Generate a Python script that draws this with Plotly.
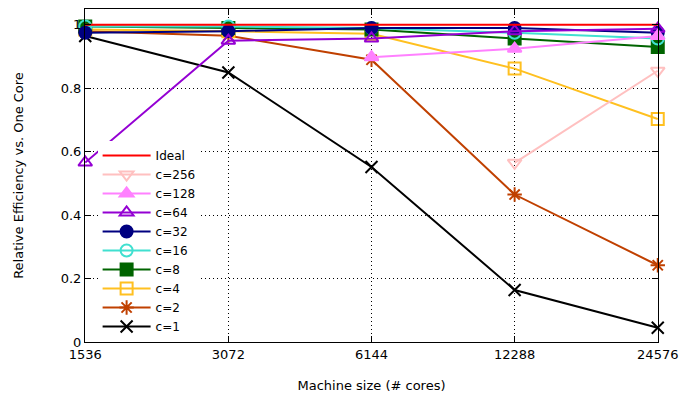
import math
import plotly.graph_objects as go

cores = [1536, 3072, 6144, 12288, 24576]
ideal = [1, 1, 1, 1, 1]
c256_x = [12288, 24576]
c256 = [0.565, 0.855]
c128_x = [6144, 12288, 24576]
c128 = [0.898, 0.925, 0.965]
c64 = [0.566, 0.950, 0.957, 0.980, 0.988]
c32 = [0.975, 0.980, 0.990, 0.990, 0.975]
c16 = [0.995, 0.995, 0.990, 0.975, 0.957]
c8 = [0.995, 0.990, 0.985, 0.957, 0.930]
c4 = [0.985, 0.980, 0.972, 0.862, 0.703]
c2 = [0.980, 0.966, 0.890, 0.465, 0.242]
c1 = [0.965, 0.850, 0.552, 0.164, 0.045]

series = [
    ("c=256", c256_x, c256, "#ffc0c0", "triangle-down-open"),
    ("c=128", c128_x, c128, "#ff80ff", "triangle-up"),
    ("c=64", cores, c64, "#9400d3", "triangle-up-open"),
    ("c=32", cores, c32, "#000080", "circle"),
    ("c=16", cores, c16, "#40e0d0", "circle-open"),
    ("c=8", cores, c8, "#006400", "square"),
    ("c=4", cores, c4, "#ffc020", "square-open"),
    ("c=2", cores, c2, "#c04000", "asterisk-open"),
    ("c=1", cores, c1, "#000000", "x-thin-open"),
]

fig = go.Figure()
for rank, (name, xs, ys, col, sym) in reversed(list(enumerate(series, start=2))):
    fig.add_trace(go.Scatter(
        x=xs, y=ys, name=name, mode="lines+markers", legendrank=rank,
        line=dict(color=col, width=2),
        marker=dict(symbol=sym, size=12, color=col,
                    line=dict(color=col, width=2)),
        cliponaxis=False))
fig.add_trace(go.Scatter(x=cores, y=ideal, name="Ideal", mode="lines", legendrank=1,
                         line=dict(color="#ff0000", width=2), cliponaxis=False))

font = "DejaVu Sans, Verdana, sans-serif"
axis_common = dict(
    showline=True, linecolor="black", linewidth=1, mirror="ticks",
    ticks="inside", ticklen=6, tickcolor="black",
    showgrid=True, gridcolor="black", griddash="1px,3px", gridwidth=1,
    zeroline=False, tickfont=dict(family=font, size=13, color="black"),
    automargin=False,
)
pad = 0.0005
fig.update_xaxes(type="log", tickvals=cores, ticktext=[str(c) for c in cores],
                 range=[math.log10(cores[0]) - pad, math.log10(cores[-1]) + pad],
                 title=dict(text="Machine size (# cores)", font=dict(family=font, size=13, color="black"), standoff=20),
                 **axis_common)
fig.update_yaxes(range=[0, 1.05], tickvals=[0, 0.2, 0.4, 0.6, 0.8, 1],
                 ticktext=["0", "0.2", "0.4", "0.6", "0.8", "1"],
                 title=dict(text="Relative Efficiency vs. One Core", font=dict(family=font, size=13, color="black"), standoff=34),
                 **axis_common)
fig.update_layout(
    width=697, height=396,
    margin=dict(l=85, r=39, t=9, b=54),
    paper_bgcolor="white", plot_bgcolor="white",
    font=dict(family=font, size=13, color="black"),
    legend=dict(x=0.022, y=0.003, xanchor="left", yanchor="bottom",
                bgcolor="white", borderwidth=0, itemwidth=48,
                font=dict(family=font, size=12, color="black"),
                tracegroupgap=0),
)
fig.write_html("out.html", config={"displayModeBar": False},
               post_script="document.body.style.margin='0';")
